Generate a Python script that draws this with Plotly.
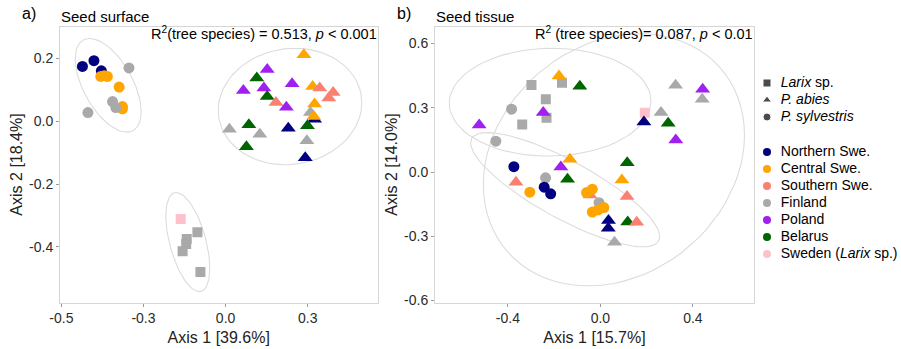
import numpy as np
import plotly.graph_objects as go

# ---------------- data ----------------
regions = ["Northern Swe.", "Central Swe.", "Southern Swe.", "Finland", "Poland", "Belarus", "Sweden (Larix sp.)"]
region_labels = ["Northern Swe.", "Central Swe.", "Southern Swe.", "Finland", "Poland", "Belarus", "Sweden (<i>Larix</i> sp.)"]
region_colors = ["#000080", "#FFA500", "#FA8072", "#A9A9A9", "#A020F0", "#006400", "#FFC0CB"]
species = ["Larix sp.", "P. abies", "P. sylvestris"]
species_labels = ["<i>Larix</i> sp.", "<i>P. abies</i>", "<i>P. sylvestris</i>"]
species_symbols = ["square", "triangle-up", "circle"]

# Panel a: seed surface
a_larix_x = [-0.164, -0.103, -0.142, -0.144, -0.157, -0.092]
a_larix_y = [-0.311, -0.353, -0.375, -0.391, -0.414, -0.480]
a_larix_r = ["Sweden (Larix sp.)", "Finland", "Finland", "Finland", "Finland", "Finland"]

a_abies_x = [0.286, 0.152, 0.114, 0.243, 0.065, 0.140, 0.318, 0.344, 0.393, 0.377, 0.152, 0.184,
             0.222, 0.325, 0.325, 0.310, 0.322, 0.014, 0.085, 0.125, 0.229, 0.299, 0.297, 0.076, 0.291]
a_abies_y = [0.212, 0.165, 0.138, 0.120, 0.098, 0.106, 0.111, 0.106, 0.092, 0.074, 0.079, 0.060,
             0.045, 0.055, 0.007, 0.028, 0.015, -0.025, -0.011, -0.041, -0.022, -0.014, -0.062, -0.081, -0.116]
a_abies_r = ["Central Swe.", "Poland", "Belarus", "Poland", "Poland", "Poland", "Central Swe.", "Southern Swe.",
             "Southern Swe.", "Southern Swe.", "Belarus", "Southern Swe.", "Poland", "Central Swe.", "Northern Swe.",
             "Finland", "Central Swe.", "Finland", "Belarus", "Finland", "Northern Swe.", "Belarus", "Finland",
             "Belarus", "Northern Swe."]

a_sylv_x = [-0.523, -0.481, -0.454, -0.456, -0.432, -0.443, -0.389, -0.377, -0.377, -0.353, -0.413, -0.401, -0.503]
a_sylv_y = [0.175, 0.193, 0.161, 0.143, 0.143, 0.145, 0.109, 0.047, 0.040, 0.170, 0.063, 0.044, 0.028]
a_sylv_r = ["Northern Swe.", "Northern Swe.", "Northern Swe.", "Central Swe.", "Central Swe.", "Central Swe.",
            "Central Swe.", "Central Swe.", "Central Swe.", "Finland", "Finland", "Finland", "Finland"]

# Panel b: seed tissue
b_larix_x = [-0.166, -0.298, -0.236, -0.233, -0.338, 0.192]
b_larix_y = [0.417, 0.406, 0.340, 0.253, 0.222, 0.276]
b_larix_r = ["Finland", "Finland", "Finland", "Finland", "Finland", "Sweden (Larix sp.)"]

b_abies_x = [-0.179, -0.089, -0.247, -0.524, -0.132, -0.171, 0.325, 0.442, 0.440, 0.262, 0.188, 0.293,
             0.326, 0.116, -0.365, -0.142, 0.093, -0.045, 0.115, 0.035, 0.034, 0.118, 0.157, 0.061]
b_abies_y = [0.448, 0.400, 0.278, 0.219, 0.059, 0.023, 0.405, 0.386, 0.340, 0.278, 0.233, 0.227,
             0.149, 0.043, -0.048, -0.034, -0.037, -0.107, -0.114, -0.226, -0.262, -0.233, -0.235, -0.328]
b_abies_r = ["Central Swe.", "Belarus", "Poland", "Poland", "Central Swe.", "Poland", "Finland", "Poland",
             "Finland", "Finland", "Northern Swe.", "Belarus", "Poland", "Belarus", "Southern Swe.", "Belarus",
             "Central Swe.", "Southern Swe.", "Southern Swe.", "Northern Swe.", "Northern Swe.", "Belarus",
             "Southern Swe.", "Finland"]

b_sylv_x = [-0.384, -0.452, -0.374, -0.237, -0.305, -0.243, -0.215, -0.060, -0.035, -0.006, -0.035, -0.010, 0.015]
b_sylv_y = [0.293, 0.144, 0.025, -0.027, -0.094, -0.071, -0.102, -0.096, -0.080, -0.143, -0.187, -0.177, -0.166]
b_sylv_r = ["Finland", "Finland", "Northern Swe.", "Finland", "Central Swe.", "Northern Swe.", "Northern Swe.",
            "Central Swe.", "Central Swe.", "Finland", "Central Swe.", "Central Swe.", "Central Swe."]

panel_titles = ["Seed surface", "Seed tissue"]
panel_tags = ["a)", "b)"]
panel_stats = ["R<sup>2</sup>(tree species) = 0.513, <i>p</i> < 0.001",
               "R<sup>2</sup> (tree species)= 0.087, <i>p</i> < 0.01"]
x_titles = ["Axis 1 [39.6%]", "Axis 1 [15.7%]"]
y_titles = ["Axis 2 [18.4%]", "Axis 2 [14.0%]"]
a_xticks = [-0.6, -0.3, 0.0, 0.3]
a_xticktext = ["-0.5", "-0.3", "0.0", "0.3"]
a_yticks = [-0.4, -0.2, 0.0, 0.2]
a_yticktext = ["-0.4", "-0.2", "0.0", "0.2"]
b_xticks = [-0.4, 0.0, 0.4]
b_xticktext = ["-0.4", "0.0", "0.4"]
b_yticks = [-0.6, -0.3, 0.0, 0.3, 0.6]
b_yticktext = ["-0.6", "-0.3", "0.0", "0.3", "0.6"]

# ---------------- helpers ----------------
color_of = dict(zip(regions, region_colors))


def cov_trob(X, nu=5, maxit=25, tol=0.01):
    n, p = X.shape
    wt = np.ones(n)
    loc = X.mean(axis=0)
    w = np.sqrt(wt)
    Xc = X - loc
    for _ in range(maxit):
        w0 = w
        Xc = X - loc
        _, d, vt = np.linalg.svd(np.sqrt(w / w.sum())[:, None] * Xc, full_matrices=False)
        wX = Xc @ vt.T @ np.diag(1 / d)
        Q = (wX ** 2).sum(axis=1)
        w = wt * (nu + p) / (nu + Q)
        loc = (w[:, None] * X).sum(axis=0) / w.sum()
        if np.all(np.abs(w - w0) < tol):
            break
    sw = np.sqrt(w)[:, None] * Xc
    cov = sw.T @ sw / wt.sum()
    return cov, loc


def ellipse(xs, ys, level=0.95, seg=80):
    X = np.column_stack([xs, ys])
    cov, center = cov_trob(X)
    R = np.linalg.cholesky(cov).T
    dfd = len(xs) - 1
    fq = dfd / 2 * ((1 - level) ** (-2 / dfd) - 1)
    radius = np.sqrt(2 * fq)
    t = np.linspace(0, 2 * np.pi, seg + 1)
    uc = np.column_stack([np.cos(t), np.sin(t)])
    e = center + radius * (uc @ R)
    return e[:, 0], e[:, 1]


fig = go.Figure()

panels = [
    [(a_larix_x, a_larix_y, a_larix_r), (a_abies_x, a_abies_y, a_abies_r), (a_sylv_x, a_sylv_y, a_sylv_r)],
    [(b_larix_x, b_larix_y, b_larix_r), (b_abies_x, b_abies_y, b_abies_r), (b_sylv_x, b_sylv_y, b_sylv_r)],
]
sizes = {"square": 10, "triangle-up": 13, "circle": 11}
axes = [("x", "y"), ("x2", "y2")]

for pi, groups in enumerate(panels):
    xa, ya = axes[pi]
    for (gx, gy, gr) in groups:
        ex, ey = ellipse(np.array(gx), np.array(gy))
        fig.add_trace(go.Scatter(x=ex, y=ey, mode="lines", xaxis=xa, yaxis=ya,
                                 line=dict(color="#dcdcdc", width=1.1), showlegend=False, hoverinfo="skip"))
    for si, (gx, gy, gr) in enumerate(groups):
        sym = species_symbols[si]
        fig.add_trace(go.Scatter(x=gx, y=gy, mode="markers", xaxis=xa, yaxis=ya,
                                 marker=dict(symbol=sym, size=sizes[sym], color=[color_of[r] for r in gr],
                                             line=dict(width=0)),
                                 showlegend=False, name=species[si]))

# ---------------- manual legend (in a pixel-like axis) ----------------
W, H = 901, 349
LX0 = 756
leg_x = 767
sp_y0, col_y0, step = 83, 152, 17
fig.add_trace(go.Scatter(x=[leg_x] * 3, y=[sp_y0 + i * step for i in range(3)], mode="markers+text",
                         xaxis="x3", yaxis="y3", text=["  " + s for s in species_labels], textposition="middle right",
                         textfont=dict(size=14, color="#000000", family="Liberation Sans, Arial"),
                         marker=dict(symbol=species_symbols, size=[8, 8, 8], color="#000000"),
                         showlegend=False, hoverinfo="skip", cliponaxis=False))
fig.add_trace(go.Scatter(x=[leg_x] * len(regions), y=[col_y0 + i * step for i in range(len(regions))],
                         mode="markers+text", xaxis="x3", yaxis="y3",
                         text=["  " + s for s in region_labels], textposition="middle right",
                         textfont=dict(size=14, color="#000000", family="Liberation Sans, Arial"),
                         marker=dict(symbol="circle", size=8, color=region_colors),
                         showlegend=False, hoverinfo="skip", cliponaxis=False))

font_family = "Liberation Sans, Arial, sans-serif"
common_axis = dict(showgrid=False, zeroline=False, showline=True, mirror=True, linecolor="#d6d6d6",
                   linewidth=1, ticks="outside", ticklen=3, tickcolor="#9a9a9a", automargin=False,
                   tickfont=dict(size=14, color="#2b2b2b", family=font_family),
                   title_font=dict(size=16, color="#222222", family=font_family))
ydom = [1 - 302.5 / H, 1 - 26.5 / H]

fig.update_layout(
    width=W, height=H, margin=dict(l=0, r=0, t=0, b=0, autoexpand=False),
    paper_bgcolor="white", plot_bgcolor="rgba(0,0,0,0)",
    font=dict(family=font_family),
    xaxis=dict(common_axis, domain=[60 / W, 377.5 / W], range=[-0.605, 0.555], tickvals=a_xticks,
               ticktext=a_xticktext, title=dict(text=x_titles[0], standoff=6), anchor="y"),
    yaxis=dict(common_axis, domain=ydom, range=[-0.577, 0.302], tickvals=a_yticks, ticktext=a_yticktext,
               title=dict(text=y_titles[0], standoff=2), anchor="x"),
    xaxis2=dict(common_axis, domain=[435 / W, 754 / W], range=[-0.715, 0.664], tickvals=b_xticks,
                ticktext=b_xticktext, title=dict(text=x_titles[1], standoff=6), anchor="y2"),
    yaxis2=dict(common_axis, domain=ydom, range=[-0.609, 0.679], tickvals=b_yticks, ticktext=b_yticktext,
                title=dict(text=y_titles[1], standoff=2), anchor="x2"),
    xaxis3=dict(domain=[LX0 / W, 1], range=[LX0, W], visible=False, fixedrange=True, anchor="y3"),
    yaxis3=dict(domain=[0, 1], range=[H, 0], visible=False, fixedrange=True, anchor="x3"),
)

# panel annotations
for pi in range(2):
    xd = fig.layout["xaxis" if pi == 0 else "xaxis2"].domain
    fig.add_annotation(text=panel_tags[pi], xref="paper", yref="paper", x=xd[0] - 40 / W, y=1 - 13 / H,
                       xanchor="left", yanchor="middle", showarrow=False,
                       font=dict(size=16, color="#000000", family=font_family))
    fig.add_annotation(text=panel_titles[pi], xref="paper", yref="paper", x=xd[0] - 1 / W, y=1 - 16 / H,
                       xanchor="left", yanchor="middle", showarrow=False,
                       font=dict(size=15, color="#000000", family=font_family))
    fig.add_annotation(text=panel_stats[pi], xref="paper", yref="paper", x=xd[1] + 1 / W, y=1 - 33 / H,
                       xanchor="right", yanchor="middle", showarrow=False,
                       font=dict(size=14.5, color="#000000", family=font_family))

fig.write_html("out.html")
